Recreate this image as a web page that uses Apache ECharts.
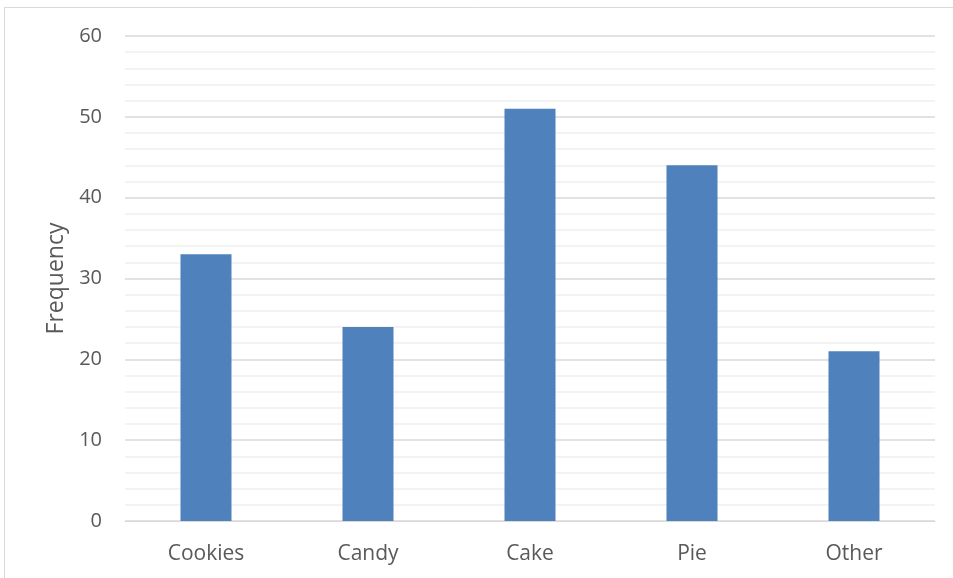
<!DOCTYPE html>
<html>
<head>
<meta charset="utf-8">
<script src="https://cdn.jsdelivr.net/npm/echarts@6/dist/echarts.min.js"></script>
<style>
  html, body { margin: 0; padding: 0; background: #fff; }
  #chart { width: 953px; height: 578px; }
</style>
</head>
<body>
<div id="chart"></div>
<script>
const categories = ['Cookies', 'Candy', 'Cake', 'Pie', 'Other'];
const frequency = [33, 24, 51, 44, 21];
const yTicks = [0, 10, 20, 30, 40, 50, 60];

const chart = echarts.init(document.getElementById('chart'), null, { renderer: 'canvas' });
const textColor = '#595959';
const fontFamily = 'Open Sans, Liberation Sans, sans-serif';

chart.setOption({
  animation: false,
  graphic: [{
    type: 'rect',
    shape: { x: 4.5, y: 7.5, width: 1000, height: 1000 },
    style: { fill: 'none', stroke: '#d9d9d9', lineWidth: 1 },
    silent: true
  }],
  grid: { left: 125, right: 18, top: 36, bottom: 57 },
  xAxis: {
    type: 'category',
    data: categories,
    axisLine: { lineStyle: { color: '#d9d9d9', width: 1 } },
    axisTick: { show: false },
    axisLabel: { color: textColor, fontSize: 21, fontFamily: fontFamily, margin: 23 }
  },
  yAxis: {
    type: 'value',
    min: yTicks[0],
    max: yTicks[yTicks.length - 1],
    interval: 10,
    name: 'Frequency',
    nameLocation: 'middle',
    nameGap: 57,
    nameTextStyle: { color: textColor, fontSize: 23, fontFamily: fontFamily },
    axisLine: { show: false },
    axisTick: { show: false },
    axisLabel: { color: textColor, fontSize: 20, fontFamily: fontFamily, margin: 23 },
    splitLine: { lineStyle: { color: '#d9d9d9', width: 1.5 } },
    minorTick: { show: false, splitNumber: 5 },
    minorSplitLine: { show: true, lineStyle: { color: '#f0f0f0', width: 1.5 } }
  },
  series: [{
    type: 'bar',
    data: frequency,
    barWidth: '31.5%',
    itemStyle: { color: '#4f81bd' }
  }]
});
</script>
</body>
</html>
